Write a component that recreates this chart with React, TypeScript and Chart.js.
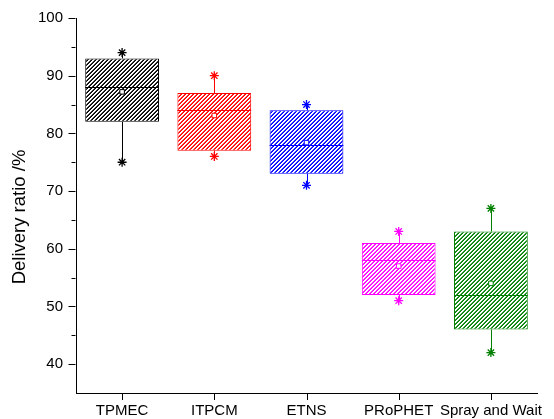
import React, { useEffect, useRef } from "react";
import { Chart, registerables } from "chart.js";

Chart.register(...registerables);

// Routing protocols compared
const categories = ["TPMEC", "ITPCM", "ETNS", "PRoPHET", "Spray and Wait"];
// Box-plot statistics of the delivery ratio (%)
const minValues = [75, 76, 71, 51, 42];
const q1Values = [82, 77, 73, 52, 46];
const medianValues = [88, 84, 78, 58, 52];
const q3Values = [93, 87, 84, 61, 63];
const maxValues = [94, 90, 85, 63, 67];
const meanValues = [87.2, 83.1, 78.4, 57.0, 54.0];
// Axis range and labelled ticks
const yMin = 35;
const yMax = 100;
const yLabelStep = 10;
const yMinorStep = 5;
const yTitle = "Delivery ratio /%";

const colors = ["#000000", "#ff0000", "#0000ff", "#ff00ff", "#008000"];
const FONT = "'Liberation Sans', Arial, sans-serif";

// Diagonal "////" hatch fill on white
function makeHatch(color: string): CanvasPattern | string {
  const tile = document.createElement("canvas");
  tile.width = 4;
  tile.height = 4;
  const c = tile.getContext("2d");
  if (!c) return color;
  c.fillStyle = "#ffffff";
  c.fillRect(0, 0, 4, 4);
  c.fillStyle = color;
  for (let x = 0; x < 4; x++) {
    for (let y = 0; y < 4; y++) {
      const s = (x + y) % 4;
      if (s === 3) {
        c.globalAlpha = 1;
        c.fillRect(x, y, 1, 1);
      } else if (s === 2) {
        c.globalAlpha = 0.8;
        c.fillRect(x, y, 1, 1);
      }
    }
  }
  c.globalAlpha = 1;
  const p = c.createPattern(tile, "repeat");
  return p || color;
}

// Whiskers and median lines drawn right after the boxes
const boxDetailsPlugin = {
  id: "boxDetails",
  afterDatasetDraw(chart: any, args: any) {
    if (args.index !== 0) return;
    const { ctx, scales } = chart;
    const x = scales.x;
    const y = scales.y;
    const meta = chart.getDatasetMeta(0);
    ctx.save();
    ctx.lineWidth = 1;
    categories.forEach((_, i) => {
      const bar = meta.data[i] as any;
      const cx = Math.round(x.getPixelForValue(i)) + 0.5;
      const half = bar.width / 2;
      ctx.strokeStyle = colors[i];
      ctx.beginPath();
      ctx.moveTo(cx, y.getPixelForValue(q3Values[i]));
      ctx.lineTo(cx, y.getPixelForValue(maxValues[i]));
      ctx.moveTo(cx, y.getPixelForValue(q1Values[i]));
      ctx.lineTo(cx, y.getPixelForValue(minValues[i]));
      const my = Math.round(y.getPixelForValue(medianValues[i])) + 0.5;
      ctx.moveTo(bar.x - half, my);
      ctx.lineTo(bar.x + half, my);
      ctx.stroke();
    });
    ctx.restore();
  },
};

// Outward major/minor tick marks on both axes, plus the y-axis title
const axisDecorPlugin = {
  id: "axisDecor",
  afterDraw(chart: any) {
    const { ctx, scales, chartArea } = chart;
    const x = scales.x;
    const y = scales.y;
    ctx.save();
    ctx.strokeStyle = "#000000";
    ctx.lineWidth = 1;
    ctx.beginPath();
    const ax = chartArea.left - 0.5;
    for (let v = yMin + yMinorStep; v <= yMax; v += yMinorStep) {
      const py = Math.round(y.getPixelForValue(v)) + 0.5;
      const len = v % yLabelStep === 0 ? 7 : 4;
      ctx.moveTo(ax, py);
      ctx.lineTo(ax - len, py);
    }
    const ay = chartArea.bottom;
    categories.forEach((_, i) => {
      const px = Math.round(x.getPixelForValue(i)) + 0.5;
      ctx.moveTo(px, ay);
      ctx.lineTo(px, ay + 7);
    });
    ctx.stroke();

    // axis title, centred on the lower part of the axis
    ctx.translate(20, 217);
    ctx.rotate(-Math.PI / 2);
    ctx.fillStyle = "#000000";
    ctx.font = `18.5px ${FONT}`;
    ctx.textAlign = "center";
    ctx.textBaseline = "middle";
    ctx.fillText(yTitle, 0, 0);
    ctx.restore();
  },
};

export default function App() {
  const canvasRef = useRef<HTMLCanvasElement | null>(null);

  useEffect(() => {
    const canvas = canvasRef.current;
    if (!canvas) return;
    const hatches = colors.map((c) => makeHatch(c));

    const chart = new Chart(canvas, {
      type: "bar",
      data: {
        labels: categories,
        datasets: [
          {
            type: "bar",
            label: "IQR",
            data: categories.map((_, i) => [q1Values[i], q3Values[i]]) as any,
            backgroundColor: hatches as any,
            borderColor: colors,
            borderWidth: 1,
            borderSkipped: false,
            categoryPercentage: 1,
            barPercentage: 0.8,
            order: 3,
          },
          {
            type: "line",
            label: "Max",
            data: maxValues,
            showLine: false,
            pointStyle: "star",
            pointRadius: 4.5,
            pointBorderWidth: 1.3,
            pointBorderColor: colors,
            pointBackgroundColor: colors,
            order: 1,
          },
          {
            type: "line",
            label: "Min",
            data: minValues,
            showLine: false,
            pointStyle: "star",
            pointRadius: 4.5,
            pointBorderWidth: 1.3,
            pointBorderColor: colors,
            pointBackgroundColor: colors,
            order: 1,
          },
          {
            type: "line",
            label: "Mean",
            data: meanValues,
            showLine: false,
            pointStyle: "rect",
            pointRadius: 3.2,
            pointBorderWidth: 1,
            pointBorderColor: colors,
            pointBackgroundColor: "#ffffff",
            order: 0,
          },
        ],
      },
      options: {
        responsive: false,
        animation: false,
        devicePixelRatio: 1,
        layout: { padding: { top: 18, right: 17, left: 0, bottom: 0 } },
        plugins: {
          legend: { display: false },
          tooltip: { enabled: false },
        },
        scales: {
          x: {
            type: "category",
            offset: true,
            grid: { display: false, drawTicks: false },
            border: { display: true, color: "#000000", width: 1 },
            ticks: {
              color: "#000000",
              font: { family: FONT, size: 15 },
              padding: 9,
              maxRotation: 0,
              autoSkip: false,
            },
            afterFit: (scale: any) => {
              scale.height = 26;
            },
          },
          y: {
            type: "linear",
            min: yMin,
            max: yMax,
            grid: { display: false, drawTicks: false },
            border: { display: true, color: "#000000", width: 1 },
            ticks: {
              stepSize: yMinorStep,
              color: "#000000",
              font: { family: FONT, size: 15 },
              padding: 13,
              callback: (v: any) => (Number(v) % yLabelStep === 0 ? String(v) : ""),
            },
            afterFit: (scale: any) => {
              scale.width = 76;
              scale.paddingTop = 9;
              scale.paddingBottom = 9;
            },
          },
        },
      },
      plugins: [boxDetailsPlugin, axisDecorPlugin],
    });

    return () => chart.destroy();
  }, []);

  return (
    <div style={{ position: "fixed", left: 0, top: 0, width: 554, height: 419, background: "#ffffff" }}>
      <canvas ref={canvasRef} width={554} height={419} style={{ display: "block" }} />
    </div>
  );
}
